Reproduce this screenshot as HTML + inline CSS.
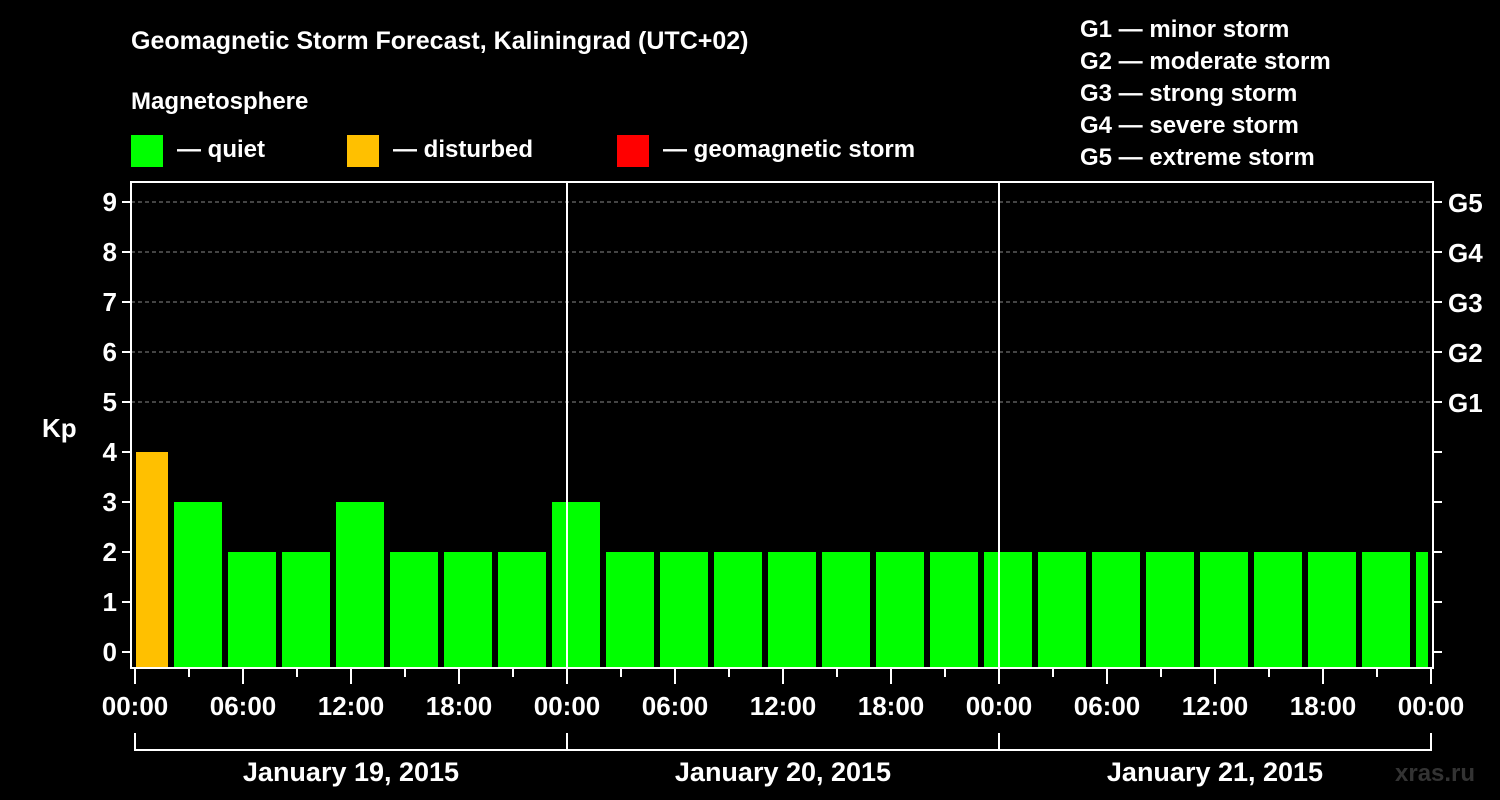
<!DOCTYPE html>
<html><head><meta charset="utf-8"><style>
body{margin:0;background:#000;width:1500px;height:800px;overflow:hidden}
svg{display:block;font-family:"Liberation Sans",sans-serif;font-weight:bold;fill:#fff}
</style></head><body>
<svg id="c" width="1500" height="800" viewBox="0 0 1500 800">
<text x="131" y="49" font-size="25">Geomagnetic Storm Forecast, Kaliningrad (UTC+02)</text>
<text x="131" y="109" font-size="24">Magnetosphere</text>
<rect x="131" y="135" width="32" height="32" fill="#00ff00"/>
<text x="177" y="157" font-size="24">— quiet</text>
<rect x="347" y="135" width="32" height="32" fill="#ffc000"/>
<text x="393" y="157" font-size="24">— disturbed</text>
<rect x="617" y="135" width="32" height="32" fill="#ff0000"/>
<text x="663" y="157" font-size="24">— geomagnetic storm</text>
<g font-size="24">
<text x="1080" y="37">G1 — minor storm</text>
<text x="1080" y="69">G2 — moderate storm</text>
<text x="1080" y="101">G3 — strong storm</text>
<text x="1080" y="133">G4 — severe storm</text>
<text x="1080" y="165">G5 — extreme storm</text>
</g>
<text x="42" y="437" font-size="26">Kp</text>
<text x="1395" y="781" font-size="24" fill="#333">xras.ru</text>
<g id="grid"></g><g id="bars"></g><g id="axes"></g>
</svg>
<script>
const kpValues=[4,3,2,2,3,2,2,2,3,2,2,2,2,2,2,2,2,2,2,2,2,2,2,2,2];
const yTicks=[0,1,2,3,4,5,6,7,8,9];
const gLabels=["G1","G2","G3","G4","G5"];
const xTickLabels=["00:00","06:00","12:00","18:00","00:00","06:00","12:00","18:00","00:00","06:00","12:00","18:00","00:00"];
const dayLabels=["January 19, 2015","January 20, 2015","January 21, 2015"];
const binStartHour=-1;
const NS="http://www.w3.org/2000/svg";
const X=h=>135+18*h, Y=k=>652-50*k;
const L=131,R=1433,T=182,B=668;
function mk(p,tag,a){const e=document.createElementNS(NS,tag);for(const k in a)e.setAttribute(k,a[k]);document.getElementById(p).appendChild(e);return e;}
yTicks.forEach(k=>{
 if(k>=5){const e=mk('grid','line',{x1:L,x2:R,y1:Y(k),y2:Y(k),stroke:'#888','stroke-dasharray':'4,3','stroke-width':1});
 
 }
 const t=mk('axes','line',{x1:L-9,x2:L,y1:Y(k),y2:Y(k),stroke:'#fff','stroke-width':2});
 
 
 const t2=mk('axes','line',{x1:R,x2:R+9,y1:Y(k),y2:Y(k),stroke:'#fff','stroke-width':2});
 
 
 const tx=mk('axes','text',{x:L-14,y:Y(k)+9,'text-anchor':'end','font-size':26});tx.textContent=k;
 
 
});
gLabels.forEach((g,i)=>{const tx=mk('axes','text',{x:R+15,y:Y(5+i)+10,'font-size':26});tx.textContent=g;
 
 });
kpValues.forEach((v,i)=>{
 const h0=binStartHour+3*i;
 let x0=X(h0)+3,x1=X(h0+3)-3;
 x0=Math.max(x0,X(0)+1);x1=Math.min(x1,X(72)-3);
 const col=v>=5?'#ff0000':v>=4?'#ffc000':'#00ff00';
 const r=mk('bars','rect',{x:x0,y:Y(v),width:x1-x0,height:B-Y(v),fill:col});
 
 
});
const fr=mk('axes','rect',{x:L,y:T,width:R-L,height:B-T,fill:'none',stroke:'#fff','stroke-width':2});


[24,48].forEach(h=>{const l=mk('axes','line',{x1:X(h),x2:X(h),y1:T,y2:B,stroke:'#fff','stroke-width':2});
 
 });
for(let h=0;h<=72;h+=3){const maj=h%6===0;
 const l=mk('axes','line',{x1:X(h),x2:X(h),y1:B,y2:B+(maj?16:9),stroke:'#fff','stroke-width':2});
 
 }
xTickLabels.forEach((s,i)=>{const tx=mk('axes','text',{x:X(6*i),y:715,'text-anchor':'middle','font-size':26});tx.textContent=s;
 
 });
const bl=mk('axes','path',{d:`M${X(0)},733V750H${X(72)}V733M${X(24)},733V750M${X(48)},733V750`,fill:'none',stroke:'#fff','stroke-width':2});


dayLabels.forEach((s,i)=>{const tx=mk('axes','text',{x:X(24*i+12),y:781,'text-anchor':'middle','font-size':27});tx.textContent=s;
 
 });
</script>
</body></html>
